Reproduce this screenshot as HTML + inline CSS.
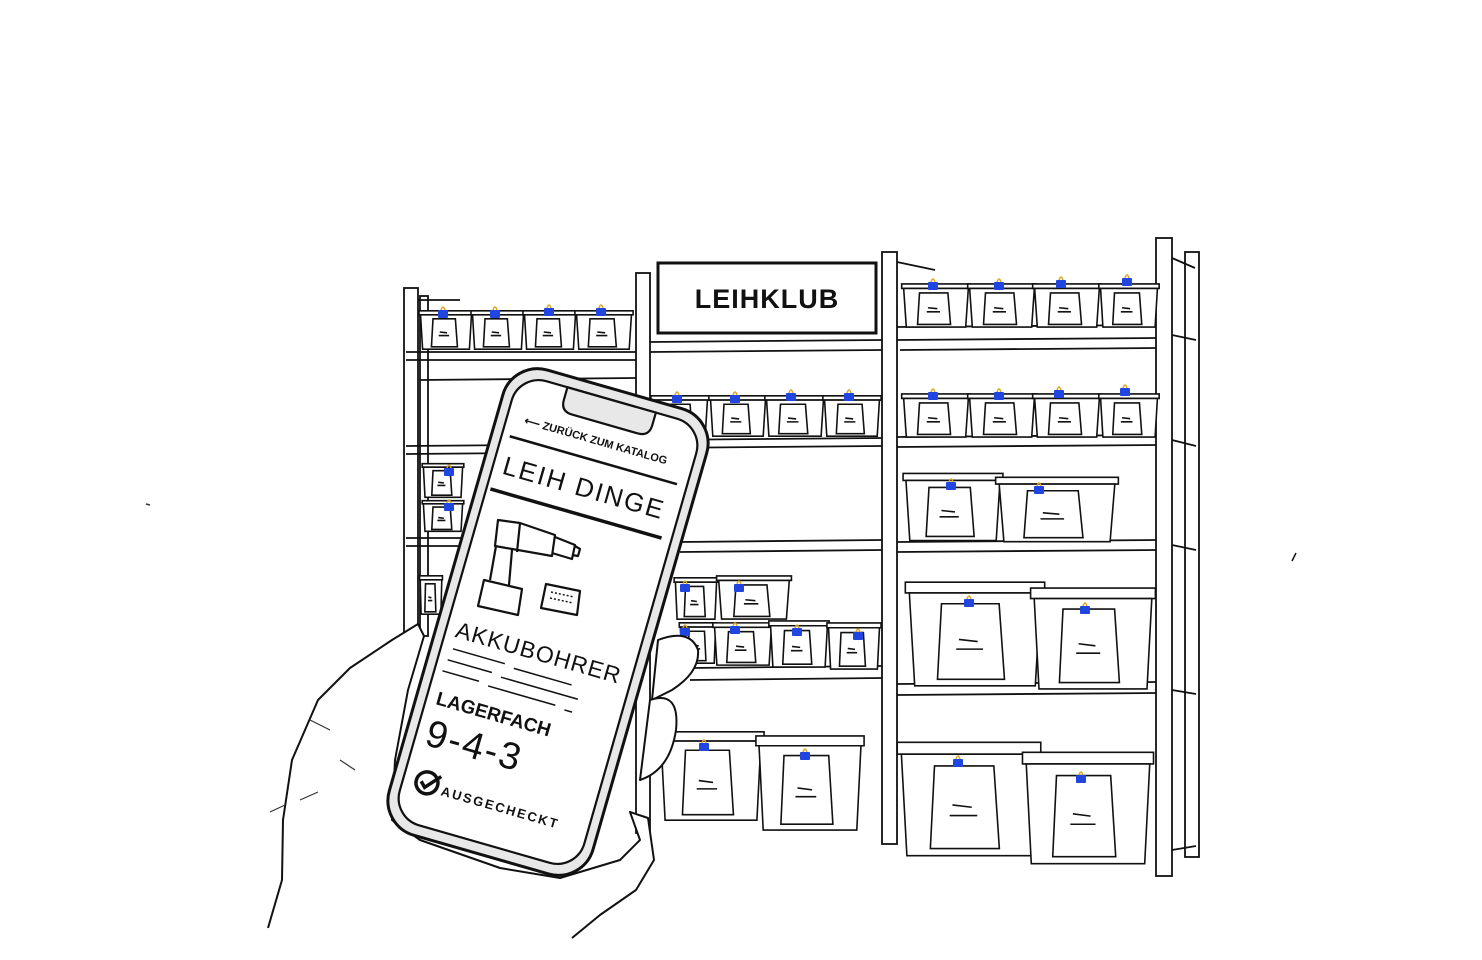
<!DOCTYPE html>
<html><head><meta charset="utf-8"><style>
html,body{margin:0;padding:0;background:#fff;width:1482px;height:960px;overflow:hidden}
svg{display:block}
text{font-family:"Liberation Sans",sans-serif}
</style></head><body>
<svg width="1482" height="960" viewBox="0 0 1482 960" xmlns="http://www.w3.org/2000/svg">
<defs>
<symbol id="box" viewBox="0 0 100 100" preserveAspectRatio="none" overflow="visible">
<g fill="#fff" stroke="#111" stroke-width="1.6" vector-effect="non-scaling-stroke">
<path d="M-2,2 L102,2 L102,12 L-2,12 Z" vector-effect="non-scaling-stroke"/>
<path d="M1,12 L99,12 L95,98 L5,98 Z" vector-effect="non-scaling-stroke"/>
<path d="M25,22 L68,22 L72,92 L22,92 Z" vector-effect="non-scaling-stroke"/>
<path d="M38,55 L52,57 M36,64 L56,64" vector-effect="non-scaling-stroke"/>
</g>
</symbol>
<g id="tag"><path d="M3,2 Q5,-4 7,2" fill="none" stroke="#d9a520" stroke-width="1.5"/><rect x="0" y="2" width="10" height="8" rx="1" fill="#2146e0"/></g>
</defs>

<path d="M146,504 l4,1" stroke="#333" stroke-width="1.5"/>
<path d="M1296,553 l-4,8" stroke="#111" stroke-width="1.5"/>

<g fill="#fff" stroke="#111" stroke-width="1.8">
<rect x="404" y="288" width="14" height="360"/>
<rect x="420" y="296" width="8" height="340"/>
<path d="M418,300 L460,300 M406,352 L636,352 M406,360 L636,360 M420,380 L636,378 M406,446 L636,444 M406,454 L636,452 M406,538 L636,538 M406,546 L636,546" fill="none"/>
<rect x="636" y="273" width="14" height="560"/>
<path d="M650,342 L882,340 M650,352 L882,350 M650,440 L882,438 M650,448 L882,446 M680,542 L882,540 M680,552 L882,550 M690,668 L882,666 M690,680 L882,678 M650,400 L882,400" fill="none"/>
<rect x="1185" y="252" width="14" height="605"/>
<path d="M1172,258 L1195,268 M1172,335 L1196,340 M1172,440 L1196,446 M1172,545 L1196,550 M1172,690 L1196,694 M1172,850 L1196,846" fill="none"/>
<rect x="882" y="252" width="15" height="592"/>
<rect x="1156" y="238" width="16" height="638"/>
<path d="M897,262 L935,270 M897,327 L1156,325 M897,340 L1156,338 M897,437 L1156,435 M897,447 L1156,445 M897,542 L1156,540 M897,552 L1156,550 M897,684 L1156,682 M897,695 L1156,693 M900,350 L1156,348" fill="none"/>
</g>

<rect x="658" y="263" width="218" height="70" fill="#fff" stroke="#111" stroke-width="3"/>
<text x="767" y="308" text-anchor="middle" font-size="27" font-weight="bold" fill="#111" letter-spacing="1">LEIHKLUB</text>

<use href="#box" x="420" y="310" width="52" height="40"/><use href="#tag" x="438" y="308"/>
<use href="#box" x="472" y="310" width="52" height="40"/><use href="#tag" x="490" y="308"/>
<use href="#box" x="524" y="310" width="52" height="40"/><use href="#tag" x="544" y="306"/>
<use href="#box" x="576" y="310" width="56" height="40"/><use href="#tag" x="596" y="306"/>
<use href="#box" x="652" y="395" width="56" height="42"/><use href="#tag" x="672" y="393"/>
<use href="#box" x="710" y="395" width="56" height="42"/><use href="#tag" x="730" y="393"/>
<use href="#box" x="766" y="395" width="58" height="42"/><use href="#tag" x="786" y="391"/>
<use href="#box" x="824" y="395" width="56" height="42"/><use href="#tag" x="844" y="391"/>
<use href="#box" x="903" y="283" width="66" height="45"/><use href="#tag" x="928" y="280"/>
<use href="#box" x="969" y="283" width="66" height="45"/><use href="#tag" x="994" y="280"/>
<use href="#box" x="1034" y="283" width="66" height="45"/><use href="#tag" x="1056" y="278"/>
<use href="#box" x="1100" y="283" width="58" height="45"/><use href="#tag" x="1122" y="276"/>
<use href="#box" x="903" y="393" width="66" height="45"/><use href="#tag" x="928" y="390"/>
<use href="#box" x="969" y="393" width="66" height="45"/><use href="#tag" x="994" y="390"/>
<use href="#box" x="1034" y="393" width="66" height="45"/><use href="#tag" x="1054" y="388"/>
<use href="#box" x="1100" y="393" width="58" height="45"/><use href="#tag" x="1120" y="386"/>
<use href="#box" x="905" y="472" width="96" height="70"/><use href="#tag" x="946" y="480"/>
<use href="#box" x="998" y="476" width="118" height="67"/><use href="#tag" x="1034" y="484"/>
<use href="#box" x="908" y="580" width="134" height="108"/><use href="#tag" x="964" y="597"/>
<use href="#box" x="1033" y="586" width="120" height="105"/><use href="#tag" x="1080" y="604"/>
<use href="#box" x="900" y="740" width="138" height="118"/><use href="#tag" x="953" y="757"/>
<use href="#box" x="1025" y="750" width="126" height="116"/><use href="#tag" x="1076" y="773"/>
<use href="#box" x="675" y="577" width="42" height="43"/><use href="#tag" x="680" y="582"/>
<use href="#box" x="718" y="575" width="72" height="45"/><use href="#tag" x="734" y="582"/>
<use href="#box" x="680" y="622" width="36" height="42"/><use href="#tag" x="680" y="626"/>
<use href="#box" x="714" y="622" width="58" height="44"/><use href="#tag" x="730" y="624"/>
<use href="#box" x="770" y="620" width="58" height="48"/><use href="#tag" x="792" y="626"/>
<use href="#box" x="828" y="622" width="52" height="48"/><use href="#tag" x="853" y="630"/>
<use href="#box" x="660" y="730" width="102" height="92"/><use href="#tag" x="699" y="741"/>
<use href="#box" x="758" y="734" width="104" height="98"/><use href="#tag" x="800" y="750"/>
<use href="#box" x="423" y="463" width="40" height="35"/><use href="#tag" x="444" y="466"/>
<use href="#box" x="423" y="500" width="40" height="32"/><use href="#tag" x="444" y="501"/>
<use href="#box" x="420" y="575" width="22" height="40"/>

<g fill="#fff" stroke="#111" stroke-width="2" stroke-linejoin="round">
<path d="M268,928 L282,880 L283,820 L292,760 L318,700 L350,668 L392,640 L418,624 L424,636 L408,690 L395,760 L392,820 L420,840 L500,868 L560,878 L620,860 L640,840 L630,812 L648,818 L654,860 L636,890 L600,915 L572,938"/>
<path d="M658,640 Q690,628 698,650 Q700,672 672,690 L652,700 Z"/>
<path d="M650,700 Q680,690 676,730 Q670,770 640,780 Z"/>
</g>
<path d="M300,800 L318,792 M285,805 L270,812 M340,760 L355,770 M310,720 L330,730" stroke="#333" stroke-width="1.2" fill="none"/>

<g transform="translate(548,622) rotate(16)">
<rect x="-106" y="-242" width="212" height="484" rx="36" fill="#e8e8e8" stroke="#111" stroke-width="3"/>
<rect x="-96" y="-231" width="192" height="462" rx="28" fill="#fff" stroke="#111" stroke-width="2.2"/>
<path d="M-46,-231 L-46,-218 Q-46,-206 -34,-206 L34,-206 Q46,-206 46,-218 L46,-231 Z" fill="#e8e8e8" stroke="#111" stroke-width="2.2"/>
<text x="-78" y="-184" font-size="11" font-weight="bold" fill="#111">⟵ ZURÜCK ZUM KATALOG</text>
<path d="M-88,-168 L86,-168" stroke="#111" stroke-width="2.5"/>
<text x="-86" y="-130" font-size="26" fill="#111" letter-spacing="2">LEIH DINGE</text>
<path d="M-92,-112 L86,-112" stroke="#111" stroke-width="3.5"/>
<text x="-86" y="40" font-size="23" fill="#111" letter-spacing="1">AKKUBOHRER</text>
<path d="M-84,52 L-30,52 M-20,54 L40,54 M-86,64 L-40,64 M-30,66 L50,66 M-88,76 L-50,76 M-40,78 L30,78 M40,80 L48,80" stroke="#111" stroke-width="1.5" fill="none"/>
<text x="-86" y="110" font-size="19" font-weight="bold" fill="#111">LAGERFACH</text>
<text x="-86" y="152" font-size="38" fill="#111" letter-spacing="2">9-4-3</text>
<circle cx="-72" cy="188" r="11" fill="none" stroke="#111" stroke-width="3.5"/>
<path d="M-78,188 L-73,193 L-60,178" fill="none" stroke="#111" stroke-width="3.5"/>
<text x="-56" y="196" font-size="13" font-weight="bold" fill="#111" letter-spacing="2">AUSGECHECKT</text>
</g>
<g fill="none" stroke="#111" stroke-width="2.2" stroke-linejoin="round">
<path d="M498,520 L520,523 L555,535 L552,556 L495,546 Z"/>
<path d="M520,523 L517,552"/>
<path d="M555,537 L575,545 L572,559 L552,553"/>
<path d="M575,546 L580,549 L578,556 L572,555"/>
<path d="M496,546 L490,580 M512,550 L509,585"/>
<path d="M484,580 L522,589 L518,615 L478,606 Z"/>
<path d="M546,584 L580,591 L577,615 L541,608 Z"/>
<path d="M551,592 L574,597 M550,598 L573,603" stroke-width="1.5" stroke-dasharray="2 2"/>
</g>
</svg>
</body></html>
